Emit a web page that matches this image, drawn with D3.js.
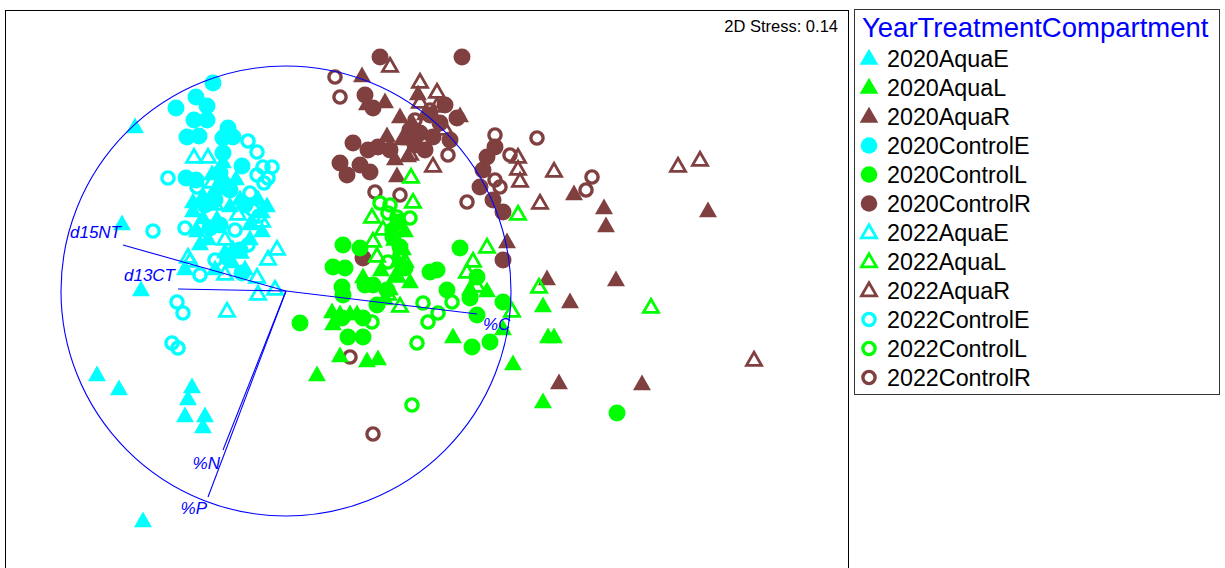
<!DOCTYPE html>
<html>
<head>
<meta charset="utf-8">
<script src="https://cdn.jsdelivr.net/npm/d3@7"></script>
<style>
  body { margin: 0; background: #fff; }
  text { font-family: "Liberation Sans", Arial, sans-serif; }
</style>
</head>
<body>
<svg id="chart" width="1225" height="568"></svg>
<script>
// NMDS scores [NMDS1, NMDS2] for each Year x Treatment x Compartment group
const aqua2020E = [[-1.51,1.63],[-1.64,0.66],[-1.45,0.00],[-1.89,-0.85],[-1.67,-0.99],[-0.94,-0.97],[-0.98,-1.09],
  [-1.01,-1.26],[-0.81,-1.26],[-0.83,-1.37],[-1.43,-2.31],[-0.93,0.88],[-0.83,0.94],[-0.63,1.28],[-0.56,0.84],
  [-0.46,0.91],[-0.19,0.84],[-0.93,0.79],[-0.83,0.72],[-0.69,0.71],[-0.61,0.38],[-0.53,0.41],[-1.01,0.21],
  [-0.54,0.28],[-0.71,1.01],[-0.36,0.66],[-0.24,0.59],[-0.78,0.51],[-0.89,0.59],[-0.41,0.21],[-0.74,1.16],
  [-0.50,1.11],[-0.28,0.91],[-0.86,0.46],[-0.71,0.21],[-0.36,0.51],[-0.24,0.78]];
const aqua2020L = [[0.46,-0.22],[0.54,-0.24],[0.71,-0.24],[0.47,-0.34],[0.81,-0.71],[0.92,-0.69],[0.31,-0.85],
  [0.54,-0.66],[1.67,-0.47],[2.01,-0.01],[0.77,0.13],[1.04,0.01],[1.17,0.41],[2.57,-0.16],[2.62,-0.47],
  [2.68,-0.47],[2.27,-0.74],[2.57,-1.12],[2.17,-0.39],[1.12,0.29],[1.09,0.14],[1.24,0.08],[0.99,-0.09],
  [0.64,-0.24],[1.19,0.59],[1.84,0.01],[1.09,0.66],[0.95,0.20]];
const aqua2020R = [[0.76,2.14],[0.99,1.88],[0.81,1.86],[1.14,1.73],[1.01,1.54],[1.16,1.51],[1.24,1.51],
  [1.27,1.66],[1.74,1.74],[1.11,1.14],[1.22,1.34],[2.88,0.96],[3.18,0.82],[3.20,0.64],[4.22,0.79],
  [2.21,0.48],[2.61,0.11],[2.84,-0.12],[3.30,0.10],[2.73,-0.93],[3.56,-0.94],[1.39,1.76],[1.09,1.31],
  [1.32,1.96]];
const control2020E = [[-0.73,2.08],[-0.90,1.94],[-0.79,1.85],[-1.10,1.83],[-0.92,1.71],[-0.79,1.71],[-0.99,1.54],
  [-0.87,1.55],[-0.58,1.63],[-0.63,1.53],[-0.53,1.54],[-0.63,1.38],[-0.44,1.25],[-1.00,1.13],[-0.66,1.18],
  [-0.63,1.08],[-0.71,0.91],[-0.90,1.11],[-0.56,1.01],[-0.81,0.86],[-0.41,0.86],[-0.66,0.66],[-0.46,0.41],
  [-0.44,0.18],[-0.76,0.63],[-0.58,0.33]];
const control2020L = [[0.57,0.46],[0.74,0.43],[0.47,0.24],[0.59,0.23],[0.56,0.04],[0.57,-0.04],[0.14,-0.32],
  [0.79,0.06],[0.87,0.06],[1.44,0.19],[1.51,0.21],[1.61,0.01],[1.74,0.43],[1.91,0.14],[1.84,-0.07],
  [1.91,-0.24],[2.17,-0.11],[1.86,-0.56],[2.04,-0.51],[0.62,-0.46],[0.77,-0.46],[0.91,-0.14],[1.01,0.01],
  [1.14,0.44],[1.07,0.54],[3.31,-1.22],[0.56,-0.27],[0.77,-0.27],[1.12,0.69],[1.19,0.23]];
const control2020R = [[0.94,2.34],[1.76,2.34],[0.79,1.96],[0.87,1.83],[0.67,1.48],[0.54,1.28],[0.61,1.16],
  [0.82,1.41],[0.74,1.26],[0.84,1.19],[0.92,1.44],[1.64,1.51],[1.71,1.73],[1.54,1.68],[1.34,1.58],
  [1.47,1.54],[2.09,1.44],[2.01,1.34],[1.97,1.21],[1.94,1.04],[2.07,0.91],[2.17,0.79],[2.17,0.31],
  [0.77,0.33],[1.24,1.61],[1.59,1.86],[1.39,1.41],[1.04,1.41],[1.44,1.76],[1.29,1.46]];
const aqua2022E = [[-0.92,1.33],[-0.78,1.33],[-0.74,1.08],[-0.98,0.33],[-0.09,0.41],[-0.18,0.31],[-0.29,0.13],
  [-0.28,-0.04],[-0.11,0.01],[-0.59,-0.21],[-0.46,0.38],[-0.61,0.51],[-0.96,0.29],[-0.86,0.66],[-0.48,0.76],
  [-0.24,0.69],[-0.71,0.86],[-0.61,0.16]];
const aqua2022L = [[0.86,0.73],[0.97,0.61],[0.87,0.49],[0.91,0.34],[1.11,0.14],[1.14,-0.16],[1.27,0.88],
  [1.87,0.29],[2.01,0.43],[1.81,0.18],[1.91,0.04],[2.26,-0.21],[2.32,0.76],[1.25,1.13],[2.53,0.03],
  [3.65,-0.17],[1.19,0.29],[1.02,-0.04],[1.09,0.51]];
const aqua2022R = [[1.04,2.24],[1.34,2.08],[1.51,1.98],[1.51,1.84],[1.34,1.88],[1.47,1.24],[2.32,1.33],
  [2.32,1.21],[2.34,1.09],[2.68,1.19],[2.54,0.87],[3.92,1.24],[4.14,1.30],[4.68,-0.70],[1.59,1.61],[1.24,1.36]];
const control2022E = [[-0.38,1.50],[-0.29,1.39],[-0.14,1.24],[-0.23,1.24],[-0.29,1.16],[-0.18,1.13],[-1.18,1.13],
  [-0.89,1.04],[-1.33,0.60],[-1.01,0.63],[-0.36,0.98],[-0.33,0.81],[-0.22,1.08],[-0.27,0.75],[-1.09,-0.11],
  [-1.03,-0.22],[-1.14,-0.52],[-1.08,-0.57],[-0.86,0.16],[-0.51,0.61],[-0.71,0.31],[-0.38,0.46]];
const control2022L = [[1.24,0.73],[1.37,-0.12],[1.42,-0.31],[1.52,-0.22],[1.66,-0.11],[1.31,-0.52],[0.86,-0.31],
  [0.94,0.88],[1.04,0.86],[1.11,0.74],[1.02,0.78],[1.02,0.29],[1.26,-1.14],[1.06,0.61],[1.14,0.36]];
const control2022R = [[0.49,2.14],[0.54,1.94],[2.09,1.56],[2.51,1.53],[1.81,0.89],[0.89,0.99],[1.14,0.96],
  [1.62,1.36],[2.24,1.36],[2.09,1.11],[2.14,1.04],[3.06,1.14],[3.00,1.01],[0.64,-0.66],[0.87,-1.43],
  [1.44,1.81],[1.29,1.71]];

// Legend order
const groupNames = ["2020AquaE","2020AquaL","2020AquaR","2020ControlE","2020ControlL","2020ControlR",
  "2022AquaE","2022AquaL","2022AquaR","2022ControlE","2022ControlL","2022ControlR"];

// Vector overlay (Pearson correlations of environmental variables)
const vectorNames = ["d15NT","d13CT","%C","%N","%P"];
const vectorX = [-1.63,-1.08,1.91,-0.63,-0.78];
const vectorY = [0.46,0.02,-0.23,-1.59,-2.06];
const circleRadius = 2.25;
const stress = 0.14;

const colors = { E: "#00ffff", L: "#00ff00", R: "#804040" };
const groupData = {
  "2020AquaE": aqua2020E, "2020AquaL": aqua2020L, "2020AquaR": aqua2020R,
  "2020ControlE": control2020E, "2020ControlL": control2020L, "2020ControlR": control2020R,
  "2022AquaE": aqua2022E, "2022AquaL": aqua2022L, "2022AquaR": aqua2022R,
  "2022ControlE": control2022E, "2022ControlL": control2022L, "2022ControlR": control2022R
};
const groups = groupNames.map(name => ({
  name,
  data: groupData[name],
  triangle: name.includes("Aqua"),
  filled: name.startsWith("2020"),
  color: colors[name.slice(-1)]
}));

const svg = d3.select("#chart");

// Plot area
const frame = { left: 5, top: 10, right: 848, bottom: 620 };
const x = d3.scaleLinear().domain([-2.81, 5.62]).range([5, 848]);
const y = d3.scaleLinear().domain([-2.77, 2.81]).range([568, 10]);

svg.append("rect")
  .attr("x", frame.left + 0.5).attr("y", frame.top + 0.5)
  .attr("width", frame.right - frame.left).attr("height", frame.bottom - frame.top)
  .attr("fill", "none").attr("stroke", "#000").attr("stroke-width", 1);

svg.append("text")
  .attr("x", 838).attr("y", 32)
  .attr("text-anchor", "end")
  .attr("font-size", 16.5)
  .text(`2D Stress: ${stress.toFixed(2)}`);

function symbolPath(g, legend) {
  if (g.triangle) {
    const size = g.filled ? (legend ? 150 : 140) : 98;
    return d3.symbol().type(d3.symbolTriangle).size(size)();
  }
  const r = g.filled ? (legend ? 8.3 : 8.5) : 6.1;
  return d3.symbol().type(d3.symbolCircle).size(Math.PI * r * r)();
}
function styleSymbol(sel, g) {
  sel.attr("fill", g.filled ? g.color : "none")
     .attr("stroke", g.filled ? "none" : g.color)
     .attr("stroke-width", g.filled ? 0 : (g.triangle ? 2.8 : 3.4));
}

// Draw order: R compartments first, then E, then L
const drawOrder = ["R", "E", "L"];
const points = svg.append("g");
drawOrder.forEach(c => {
  groups.filter(g => g.name.endsWith(c)).forEach(g => {
    points.selectAll(null)
      .data(g.data)
      .join("path")
      .attr("d", symbolPath(g, false))
      .attr("transform", d => `translate(${x(d[0])},${y(d[1])})`)
      .call(styleSymbol, g);
  });
});

// Correlation circle and vectors
const overlay = svg.append("g");
overlay.append("circle")
  .attr("cx", x(0)).attr("cy", y(0))
  .attr("r", x(circleRadius) - x(0))
  .attr("fill", "none").attr("stroke", "#0000ff").attr("stroke-width", 1.1);

const labelOffset = [[-2, -7, "end"], [-3, -8, "end"], [6, 16, "start"], [-3, 19, "end"], [-1, 17, "end"]];
vectorNames.forEach((name, i) => {
  overlay.append("line")
    .attr("x1", x(0)).attr("y1", y(0))
    .attr("x2", x(vectorX[i])).attr("y2", y(vectorY[i]))
    .attr("stroke", "#0000ff").attr("stroke-width", 1.1);
  overlay.append("text")
    .attr("x", x(vectorX[i]) + labelOffset[i][0])
    .attr("y", y(vectorY[i]) + labelOffset[i][1])
    .attr("text-anchor", labelOffset[i][2])
    .attr("font-size", 17)
    .attr("font-style", "italic")
    .attr("fill", "#0000ff")
    .text(name);
});

// Legend
const legend = svg.append("g");
legend.append("rect")
  .attr("x", 854.5).attr("y", 9.5).attr("width", 365).attr("height", 385)
  .attr("fill", "#fff").attr("stroke", "#333").attr("stroke-width", 1);
legend.append("text")
  .attr("x", 862).attr("y", 37)
  .attr("font-size", 27.5)
  .attr("fill", "#0000ff")
  .text("YearTreatmentCompartment");
groups.forEach((g, i) => {
  const cy = 58.5 + i * 29;
  legend.append("path")
    .attr("d", symbolPath(g, true))
    .attr("transform", `translate(869,${cy + (g.triangle ? 1 : 0)})`)
    .call(styleSymbol, g);
  legend.append("text")
    .attr("x", 887).attr("y", cy + 8.3)
    .attr("font-size", 23.3)
    .attr("fill", "#000")
    .text(g.name);
});
</script>
</body>
</html>
